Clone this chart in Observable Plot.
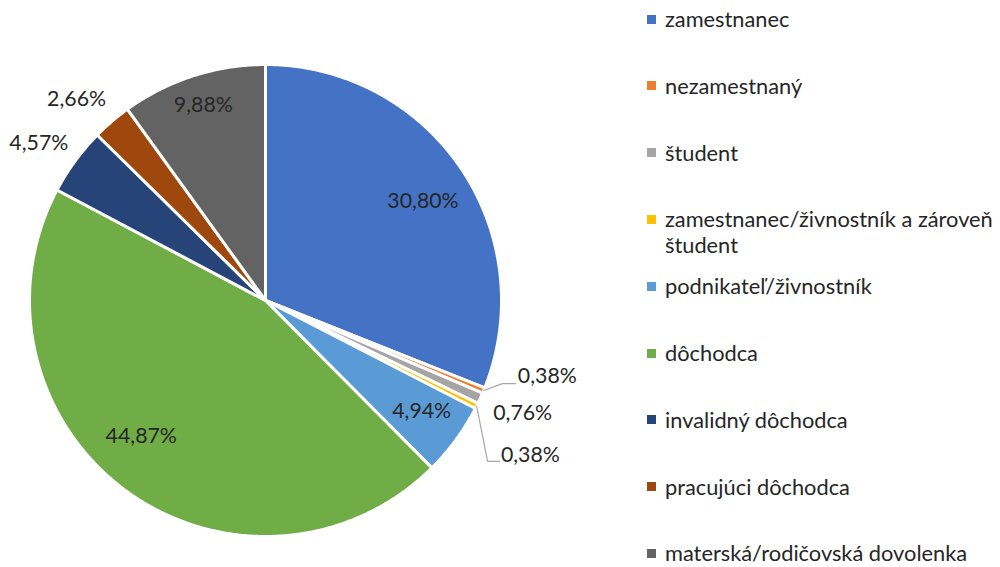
<!DOCTYPE html>
<html>
<head>
<meta charset="utf-8">
<script src="https://cdn.jsdelivr.net/npm/d3@7"></script>
<script src="https://cdn.jsdelivr.net/npm/@observablehq/plot@0.6"></script>
<style>
  body { margin: 0; background: #fff; }
  #wrap { position: relative; width: 1000px; height: 567px; overflow: hidden; }
  #legend { position: absolute; left: 647px; top: 0; font-family: Lato, "Open Sans", sans-serif; font-size: 21.8px; color: #262626; }
  .item { position: absolute; left: 0; white-space: nowrap; line-height: 22px; }
  .sw { position: absolute; left: 0; top: 6.5px; width: 9px; height: 9px; }
  .lbl { position: absolute; left: 18px; top: 0; }
  .lbl div + div { margin-top: 4px; }
</style>
</head>
<body>
<div id="wrap"><div id="chart"></div><div id="legend"></div></div>
<script>
const categories = [
  "zamestnanec",
  "nezamestnaný",
  "študent",
  "zamestnanec/živnostník a zároveň študent",
  "podnikateľ/živnostník",
  "dôchodca",
  "invalidný dôchodca",
  "pracujúci dôchodca",
  "materská/rodičovská dovolenka"
];
const legendLines = [
  ["zamestnanec"],
  ["nezamestnaný"],
  ["študent"],
  ["zamestnanec/živnostník a zároveň", "študent"],
  ["podnikateľ/živnostník"],
  ["dôchodca"],
  ["invalidný dôchodca"],
  ["pracujúci dôchodca"],
  ["materská/rodičovská dovolenka"]
];
const values = [30.80, 0.38, 0.76, 0.38, 4.94, 44.87, 4.57, 2.66, 9.88];
const colors = ["#4472C4", "#ED7D31", "#A5A5A5", "#FFC000", "#5B9BD5", "#70AD47", "#264478", "#9E480E", "#636363"];

// label layout (radial factor and angular nudge in degrees)
const labelRadius = [0.79, 1.237, 1.19, 1.30, 0.81, 0.78, 1.17, 1.17, 0.87];
const labelShift = [1.8, -7.3, -0.8, 3.75, -1, 5.9, -1.4, -2.5, 0.3];
// leader lines: [slice index, elbow, end] in unit coordinates
const leaders = [
  [1, [1.004, -0.352], [1.059, -0.352]],
  [3, [0.941, -0.682], [0.992, -0.682]]
];

const total = d3.sum(values);
const toRad = a => a * Math.PI / 180;
const pt = (r, deg) => [r * Math.sin(toRad(deg)), r * Math.cos(toRad(deg))];

let cum = 0;
const slices = values.map((v, i) => {
  const a0 = cum / total * 360;
  cum += v;
  const a1 = cum / total * 360;
  return { i, cat: categories[i], a0, a1, mid: (a0 + a1) / 2, v };
});

const wedgePts = [];
for (const s of slices) {
  const steps = Math.max(2, Math.ceil((s.a1 - s.a0) / 0.5));
  const pts = [[0, 0]];
  for (let k = 0; k <= steps; k++) pts.push(pt(1, s.a0 + (s.a1 - s.a0) * k / steps));
  pts.push([0, 0]);
  for (const [x, y] of pts) wedgePts.push({ x, y, cat: s.cat });
}

const fmt = v => v.toFixed(2).replace(".", ",") + "%";
const labels = slices.map(s => {
  const [x, y] = pt(labelRadius[s.i], s.mid + labelShift[s.i]);
  return { x, y, text: fmt(s.v) };
});

const leaderPts = [];
leaders.forEach(([i, e, f], k) => {
  const [sx, sy] = pt(1.0, slices[i].mid);
  leaderPts.push({ x: sx, y: sy, k }, { x: e[0], y: e[1], k }, { x: f[0], y: f[1], k });
});

const R = 236, cx = 265, cy = 300, W = 1000, H = 567;
const chart = Plot.plot({
  width: W, height: H,
  margin: 0,
  x: { domain: [-cx / R, (W - cx) / R], range: [0, W], axis: null },
  y: { domain: [-(H - cy) / R, cy / R], range: [H, 0], axis: null },
  color: { domain: categories, range: colors },
  style: { fontFamily: "Lato, 'Open Sans', sans-serif", background: "white" },
  marks: [
    Plot.line(wedgePts, { x: "x", y: "y", z: "cat", fill: "cat", stroke: "white", strokeWidth: 3, strokeLinejoin: "round" }),
    Plot.line(leaderPts, { x: "x", y: "y", z: "k", stroke: "#A6A6A6", strokeWidth: 1.2 }),
    Plot.text(labels, { x: "x", y: "y", text: "text", fontSize: 21.3, fill: "#262626", textAnchor: "middle" })
  ]
});
document.getElementById("chart").appendChild(chart);

const legend = document.getElementById("legend");
legendLines.forEach((lines, i) => {
  const item = document.createElement("div");
  item.className = "item";
  item.style.top = (19 + i * 66.8 - 11) + "px";
  const sw = document.createElement("div");
  sw.className = "sw";
  sw.style.background = colors[i];
  const lb = document.createElement("div");
  lb.className = "lbl";
  for (const line of lines) {
    const d = document.createElement("div");
    d.textContent = line;
    lb.appendChild(d);
  }
  item.appendChild(sw);
  item.appendChild(lb);
  legend.appendChild(item);
});
</script>
</body>
</html>
